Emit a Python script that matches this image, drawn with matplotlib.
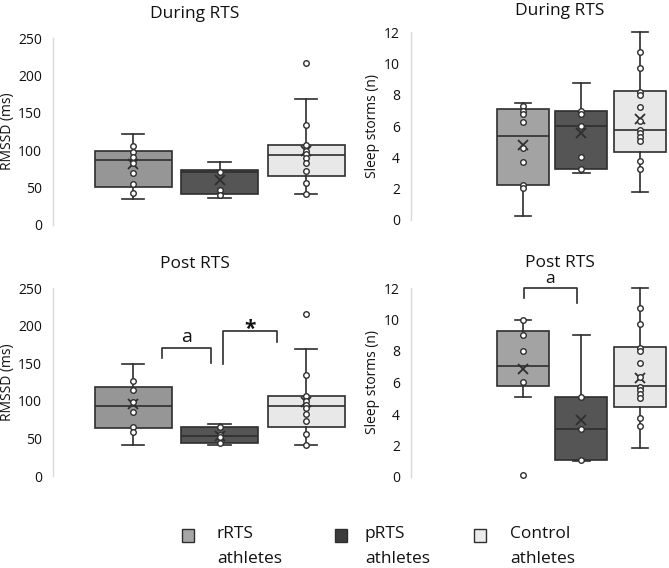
import matplotlib
matplotlib.use("Agg")
import matplotlib.pyplot as plt
from matplotlib.patches import Rectangle

plt.rcParams['font.family'] = ['Open Sans', 'DejaVu Sans']

groups = ["rRTS athletes", "pRTS athletes", "Control athletes"]
legend_labels = ["rRTS\nathletes", "pRTS\nathletes", "Control\nathletes"]

# ---- RMSSD during RTS ----
rmssd_during_q1 = [51, 41, 65]
rmssd_during_med = [87, 71, 93]
rmssd_during_q3 = [99, 74, 107]
rmssd_during_lo = [35, 36.5, 41.4]
rmssd_during_hi = [121, 84, 169]
rmssd_during_mean = [81, 60, 99]
rmssd_during_pts = [[105, 98, 90.5, 82.5, 70, 54.4, 42.4],
                    [71, 47, 40],
                    [216, 133.7, 107, 99.3, 95, 90, 82.5, 72.6, 56, 41.4]]

# ---- RMSSD post RTS ----
rmssd_post_q1 = [64.3, 44.3, 65]
rmssd_post_med = [92.6, 53.2, 93]
rmssd_post_q3 = [118.8, 64.7, 107]
rmssd_post_lo = [40.8, 41.7, 41.4]
rmssd_post_hi = [148.5, 69.6, 169]
rmssd_post_mean = [95.7, 53.5, 99]
rmssd_post_pts = [[126, 115, 98, 85, 65.6, 58],
                  [65.6, 55, 52, 44.3],
                  [216, 133.7, 107, 99.3, 95, 90, 82.5, 72.6, 56, 41.4]]

# ---- Sleep storms during RTS ----
sleep_during_q1 = [2.21, 3.23, 4.34]
sleep_during_med = [5.36, 5.98, 5.72]
sleep_during_q3 = [7.06, 6.98, 8.25]
sleep_during_lo = [0.26, 3.02, 1.79]
sleep_during_hi = [7.49, 8.76, 12.0]
sleep_during_mean = [4.77, 5.53, 6.45]
sleep_during_pts = [[7.28, 6.98, 6.77, 6.23, 4.58, 3.68, 2.25, 2.02],
                    [6.96, 6.75, 5.98, 4.0, 3.26],
                    [10.72, 9.72, 8.19, 8.0, 7.23, 6.34, 5.74, 5.53, 5.28, 5.02, 3.77, 3.26]]

# ---- Sleep storms post RTS ----
sleep_post_q1 = [5.78, 1.1, 4.43]
sleep_post_med = [7.03, 3.07, 5.78]
sleep_post_q3 = [9.27, 5.06, 8.27]
sleep_post_lo = [5.06, 1.0, 1.84]
sleep_post_hi = [10.0, 9.03, 12.0]
sleep_post_mean = [6.86, 3.62, 6.3]
sleep_post_pts = [[10.0, 9.04, 8.02, 6.03, 0.1],
                  [5.06, 3.07, 1.1],
                  [10.72, 9.72, 8.19, 8.0, 7.23, 6.34, 5.74, 5.53, 5.28, 5.02, 3.77, 3.26]]

W, H = 669, 568
fig = plt.figure(figsize=(W / 100, H / 100), dpi=100)
fig.patch.set_facecolor("white")

left_fill = ["#969696", "#555555", "#e8e8e8"]
right_fill = ["#a3a3a3", "#555555", "#e8e8e8"]
legend_fill = ["#a6a6a6", "#3c3c3c", "#ececec"]
edge = "#2e2e2e"
txt = "#111111"


def ax_at(x0, x1, ytop, ybot):
    return fig.add_axes([x0 / W, 1 - ybot / H, (x1 - x0) / W, (ybot - ytop) / H])


def panel(ax, q1, med, q3, lo, hi, mean, pts, fills, ylim, yticks, ylabel,
          xlim, capw, labx):
    stats = []
    for i in range(3):
        stats.append(dict(med=med[i], q1=q1[i], q3=q3[i], whislo=lo[i],
                          whishi=hi[i], mean=mean[i], fliers=[]))
    bp = ax.bxp(stats, positions=[1, 2, 3], widths=0.89, patch_artist=True,
                showmeans=True, capwidths=capw,
                boxprops=dict(edgecolor=edge, linewidth=1.2),
                medianprops=dict(color=edge, linewidth=1.2),
                whiskerprops=dict(color=edge, linewidth=1.2),
                capprops=dict(color=edge, linewidth=1.2),
                meanprops=dict(marker="x", markeredgecolor=edge,
                               markerfacecolor=edge, markersize=7,
                               markeredgewidth=1.3))
    for patch, c in zip(bp["boxes"], fills):
        patch.set_facecolor(c)
    for art in bp["whiskers"] + bp["caps"] + bp["means"]:
        art.set_clip_on(False)
    for i, p in enumerate(pts):
        ax.plot([i + 1] * len(p), p, linestyle="none", marker="o",
                markersize=4, markerfacecolor="white", markeredgecolor=edge,
                markeredgewidth=1.0, clip_on=False, zorder=5)
    ax.set_ylim(*ylim)
    ax.set_xlim(*xlim)
    ax.set_yticks(yticks)
    ax.set_xticks([])
    for s in ["top", "right", "bottom"]:
        ax.spines[s].set_visible(False)
    ax.spines["left"].set_color("#d9d9d9")
    ax.spines["left"].set_linewidth(1.0)
    ax.tick_params(axis="y", length=0, pad=8, labelsize=10, labelcolor=txt)
    ax.set_ylabel(ylabel, fontsize=10, color=txt)
    ax.yaxis.label.set_va("center")
    ax.yaxis.set_label_coords(labx, 0.5)
    ax.patch.set_alpha(0)


lx = (0.075, 3.6)
rx = (-0.915, 3.5)

ax1 = ax_at(53, 358, 38, 225)
panel(ax1, rmssd_during_q1, rmssd_during_med, rmssd_during_q3, rmssd_during_lo,
      rmssd_during_hi, rmssd_during_mean, rmssd_during_pts, left_fill,
      (0, 250), range(0, 251, 50), "RMSSD (ms)", lx, 0.26, -45 / 305)

ax2 = ax_at(411, 669, 32, 220)
panel(ax2, sleep_during_q1, sleep_during_med, sleep_during_q3, sleep_during_lo,
      sleep_during_hi, sleep_during_mean, sleep_during_pts, right_fill,
      (0, 12), range(0, 13, 2), "Sleep storms (n)", rx, 0.28, -38 / 258)

ax3 = ax_at(53, 358, 288, 476)
panel(ax3, rmssd_post_q1, rmssd_post_med, rmssd_post_q3, rmssd_post_lo,
      rmssd_post_hi, rmssd_post_mean, rmssd_post_pts, left_fill,
      (0, 250), range(0, 251, 50), "RMSSD (ms)", lx, 0.26, -45 / 305)

ax4 = ax_at(411, 669, 288, 477)
panel(ax4, sleep_post_q1, sleep_post_med, sleep_post_q3, sleep_post_lo,
      sleep_post_hi, sleep_post_mean, sleep_post_pts, right_fill,
      (0, 12), range(0, 13, 2), "Sleep storms (n)", rx, 0.28, -38 / 258)

# significance brackets
bk = dict(color=edge, linewidth=1.2, clip_on=False)
ax3.plot([1.335, 1.335, 1.90, 1.90], [157, 170.6, 170.6, 150], **bk)
ax3.text(1.62, 178, "a", ha="center", va="baseline", fontsize=14, color=txt)
ax3.plot([2.04, 2.04, 2.665, 2.665], [149, 193, 193, 178], **bk)
ax3.text(2.35, 188, "*", ha="center", va="baseline", fontsize=15,
         fontweight="bold", color=txt)
ax4.plot([1.02, 1.02, 1.92, 1.92], [11.35, 12.02, 12.02, 11.03], **bk)
ax4.text(1.47, 12.3, "a", ha="center", va="baseline", fontsize=12.5, color=txt)

# titles
title_kw = dict(ha="center", va="center", fontsize=12.5, color=txt)
fig.text(195 / W, 1 - 14 / H, "During RTS", **title_kw)
fig.text(560 / W, 1 - 11 / H, "During RTS", **title_kw)
fig.text(195 / W, 1 - 264 / H, "Post RTS", **title_kw)
fig.text(560 / W, 1 - 263 / H, "Post RTS", **title_kw)

# legend
sq_x = [182, 335, 474]
tx_x = [217, 365, 510]
for sx, tx, c, lab in zip(sq_x, tx_x, legend_fill, legend_labels):
    fig.patches.append(Rectangle((sx / W, 1 - 542 / H), 12 / W, 13 / H,
                                 transform=fig.transFigure, facecolor=c,
                                 edgecolor=edge, linewidth=1.0))
    fig.text(tx / W, 1 - 526 / H, lab, ha="left", va="top", fontsize=12.5,
             color=txt, linespacing=1.75)

fig.savefig("out.png", dpi=100, facecolor="white")
